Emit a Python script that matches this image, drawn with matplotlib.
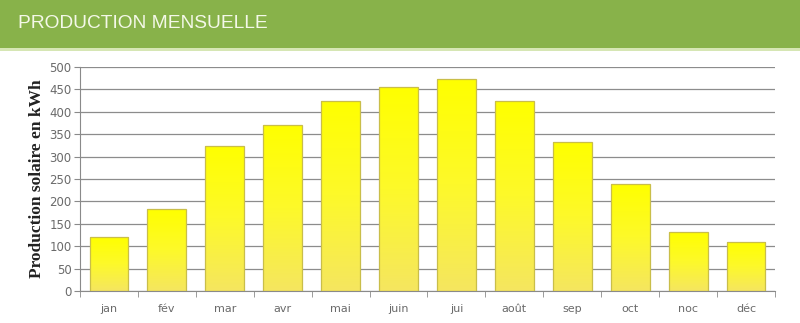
import numpy as np
import matplotlib.pyplot as plt
from matplotlib.colors import LinearSegmentedColormap

months = ["jan", "fév", "mar", "avr", "mai", "juin", "jui", "août", "sep", "oct", "noc", "déc"]
production = [120, 182, 324, 370, 425, 455, 474, 423, 332, 238, 131, 110]
yticks = [0, 50, 100, 150, 200, 250, 300, 350, 400, 450, 500]

fig = plt.figure(figsize=(8, 3.23), dpi=100)
fig.patch.set_facecolor("white")

# green banner
fig.patches.append(plt.Rectangle((0, 1 - 48 / 323), 1, 48 / 323, transform=fig.transFigure,
                                 facecolor="#88b24a", edgecolor="none", zorder=0))
fig.patches.append(plt.Rectangle((0, 1 - 51 / 323), 1, 3 / 323, transform=fig.transFigure,
                                 facecolor="#d6e6b4", edgecolor="none", zorder=0))
fig.text(18 / 800, 1 - 24 / 323, "PRODUCTION MENSUELLE", color="#f4f8e8",
         fontsize=13.8, family="Liberation Sans", va="center", ha="left")

ax = fig.add_axes([80 / 800, 1 - 291 / 323, 695 / 800, 224 / 323])
x = np.arange(len(months))
bars = ax.bar(x, production, width=0.67, facecolor="none", edgecolor="#c9be4a",
              linewidth=0.9, zorder=3)

# vertical gradient inside each bar, bright yellow at the top
cmap = LinearSegmentedColormap.from_list("sun", ["#f5e660", "#fdf92a", "#ffff00"])
grad = np.linspace(0, 1, 256).reshape(-1, 1)
for b in bars:
    bx, w, h = b.get_x(), b.get_width(), b.get_height()
    im = ax.imshow(grad, extent=[bx, bx + w, 0, h], origin="lower", aspect="auto",
                   cmap=cmap, zorder=2)
    im.set_clip_path(b)

ax.set_xlim(-0.5, len(months) - 0.5)
ax.set_ylim(0, 500)
ax.set_yticks(yticks)
ax.set_xticks(x)
ax.set_xticklabels(months)
ax.set_xticks(np.arange(-0.5, len(months)), minor=True)
ax.tick_params(axis="x", which="major", length=0, pad=9, labelsize=8, labelcolor="#6a6a6a")
ax.tick_params(axis="x", which="minor", length=4, color="#8a8a8a", direction="out")
ax.tick_params(axis="y", length=4, color="#8a8a8a", labelsize=8.5, labelcolor="#6a6a6a", pad=2)

ax.grid(axis="y", color="#8c8c8c", linewidth=0.9, zorder=1)
ax.set_axisbelow(True)
for s in ["top", "right"]:
    ax.spines[s].set_visible(False)
ax.spines["left"].set_color("#8a8a8a")
ax.spines["bottom"].set_color("#8a8a8a")

ax.set_ylabel("Production solaire en kWh", family="Liberation Serif", fontweight="bold",
              fontsize=12.5, color="#222222", labelpad=3)

fig.savefig("out.png", dpi=100)
